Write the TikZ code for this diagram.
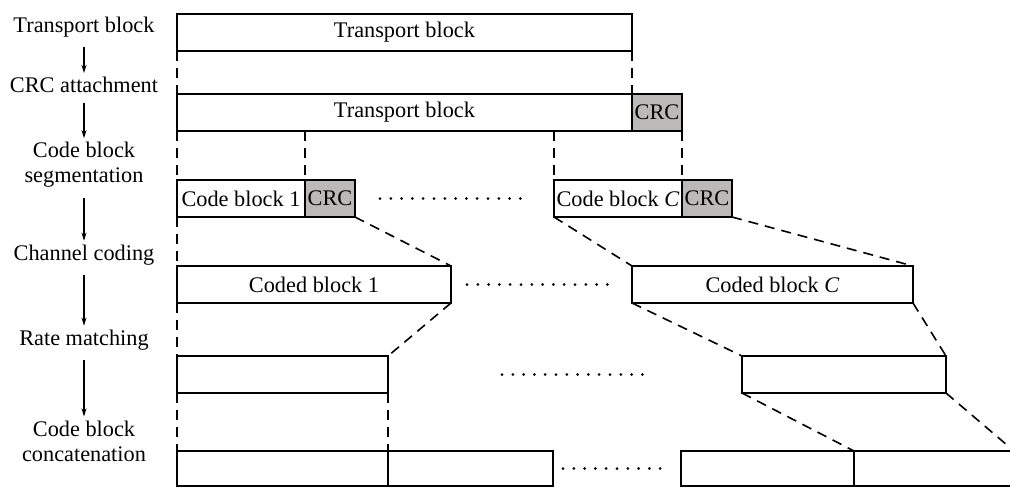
\documentclass[tikz,border=0pt]{standalone}
\usepackage{fontspec}
\setmainfont{Liberation Serif}
\usepackage{tikz}
\usetikzlibrary{positioning,arrows.meta}
\definecolor{crcgray}{RGB}{188,186,182}

\begin{document}
\begin{tikzpicture}[x=1pt, y=-1pt,
  blk/.style={draw, line width=1.6pt, anchor=north west, inner sep=0pt,
    outer sep=0pt, minimum height=37pt, font=\fontsize{22.3}{25}\selectfont},
  crc/.style={blk, fill=crcgray, minimum width=50pt},
  lbl/.style={font=\fontsize{22.3}{25}\selectfont, align=center, inner sep=2pt},
  arr/.style={-{Stealth[length=8pt,width=5pt]}, line width=1.3pt,
    shorten <=8pt, shorten >=2pt},
  dsh/.style={line width=1.6pt, dash pattern=on 10pt off 7pt},
  dots/.style={line width=3pt, line cap=round, dash pattern=on 0pt off 10.8pt},
]
  \useasboundingbox (0,0) rectangle (1010,488);
  \clip (0,0) rectangle (1010,488);

  \node[lbl] (l1) at (84,27) {Transport block};
  \node[lbl] (l2) at (84,85) {CRC attachment};
  \node[lbl] (l3) at (84,165) {Code block\\segmentation};
  \node[lbl] (l4) at (84,255) {Channel coding};
  \node[lbl] (l5) at (84,340) {Rate matching};
  \node[lbl] (l6) at (84,441) {Code block\\concatenation};

  \draw[arr] (l1) -- (l2);
  \draw[arr] (l2) -- (l3);
  \draw[arr] (l3) -- (l4);
  \draw[arr] (l4) -- (l5);
  \draw[arr] (l5) -- (l6);

  \node[blk, minimum width=455pt] (tb1) at (177,14) {Transport block};
  \node[blk, minimum width=455pt] (tb2) at (177,94) {Transport block};
  \node[crc] (crc0) at (tb2.north east) {CRC};

  \node[blk, minimum width=128pt] (cb1) at (177,180) {Code block 1};
  \node[crc] (crc1) at (cb1.north east) {CRC};
  \node[blk, minimum width=128pt] (cbC) at (554,180) {Code block \textit{C}};
  \node[crc] (crcC) at (cbC.north east) {CRC};

  \node[blk, minimum width=274pt] (cd1) at (177,266) {Coded block 1};
  \node[blk, minimum width=281pt] (cdC) at (632,266) {Coded block \textit{C}};

  \node[blk, minimum width=211pt] (rm1) at (177,356) {};
  \node[blk, minimum width=204pt] (rmC) at (742,356) {};

  \node[blk, minimum width=211pt, minimum height=35pt] (cc1) at (177,451) {};
  \node[blk, minimum width=165pt, minimum height=35pt] (cc2) at (cc1.north east) {};
  \node[blk, minimum width=173pt, minimum height=35pt] (ccC1) at (681,451) {};
  \node[blk, minimum width=160pt, minimum height=35pt] (ccC2) at (ccC1.north east) {};

  \draw[dsh] (tb1.south west) -- (tb2.north west);
  \draw[dsh] (tb1.south east) -- (crc0.north west);
  \draw[dsh] (tb2.south west) -- (cb1.north west);
  \draw[dsh] (cb1.north east |- tb2.south) -- (cb1.north east);
  \draw[dsh] (cbC.north west |- tb2.south) -- (cbC.north west);
  \draw[dsh] (crc0.south east) -- (cbC.north east);

  \draw[dsh] (cb1.south west) -- (cd1.north west);
  \draw[dsh] (crc1.south east) -- (cd1.north east);
  \draw[dsh] (cbC.south west) -- (cdC.north west);
  \draw[dsh] (crcC.south east) -- (cdC.north east);

  \draw[dsh] (cd1.south west) -- (rm1.north west);
  \draw[dsh] (cd1.south east) -- (rm1.north east);
  \draw[dsh] (cdC.south west) -- (rmC.north west);
  \draw[dsh] (cdC.south east) -- (rmC.north east);

  \draw[dsh] (rm1.south west) -- (cc1.north west);
  \draw[dsh] (rm1.south east) -- (cc1.north east);
  \draw[dsh] (rmC.south west) -- (ccC1.north east);
  \draw[dsh] (rmC.south east) -- (ccC2.north east);

  \draw[dots, shorten <=25pt, shorten >=30pt] (crc1.east) -- (cbC.west);
  \draw[dots, shorten <=16pt, shorten >=18pt] (cd1.east) -- (cdC.west);
  \draw[dots, shorten <=114pt, shorten >=92pt] (rm1.east) -- (rmC.west);
  \draw[dots, shorten <=10pt, shorten >=16pt] (cc2.east) -- (ccC1.west);
\end{tikzpicture}
\end{document}
